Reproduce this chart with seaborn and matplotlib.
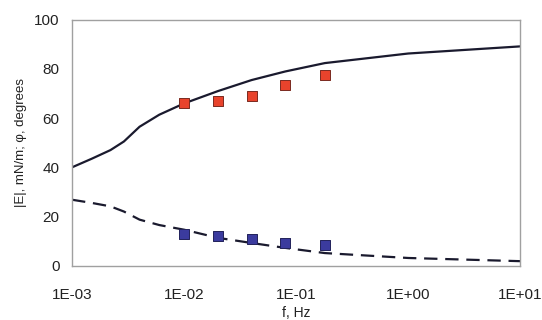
import numpy as np
import pandas as pd
import matplotlib
matplotlib.use("Agg")
import matplotlib.pyplot as plt
import seaborn as sns

# model curves
curve_f = [0.001, 0.0015, 0.0022, 0.0029, 0.004, 0.006, 0.01, 0.02, 0.04, 0.08, 0.18, 1.0, 10.0]
modulus_curve = [40, 43.5, 47, 50.5, 56.5, 61.4, 66, 71, 75.5, 79, 82.4, 86.3, 89.2]
phase_curve = [26.8, 25.5, 24.1, 22.0, 18.7, 16.5, 14.6, 11.3, 9.2, 7.2, 5.1, 3.1, 1.8]

# measured points
meas_f = [0.01, 0.02, 0.04, 0.08, 0.18]
modulus_meas = [66.3, 67.0, 69.0, 73.3, 77.5]
phase_meas = [12.9, 11.9, 11.0, 9.0, 8.3]

sns.set_theme(style="white")
plt.rcParams["font.family"] = ["Liberation Sans", "DejaVu Sans"]

curves = pd.DataFrame({"f": curve_f, "mod": modulus_curve, "phase": phase_curve})
pts = pd.DataFrame({"f": meas_f, "mod": modulus_meas, "phase": phase_meas})

fig, ax = plt.subplots(figsize=(5.42, 3.2), dpi=100)
fig.subplots_adjust(left=0.133, right=0.96, top=0.938, bottom=0.17)

sns.lineplot(data=curves, x="f", y="mod", ax=ax, color="#1a1a2e", lw=1.6)
sns.lineplot(data=curves, x="f", y="phase", ax=ax, color="#1a1a2e", lw=1.6,
             linestyle=(0, (6, 3.5)))
sns.scatterplot(data=pts, x="f", y="mod", ax=ax, marker="s", s=42,
                color="#e8432c", edgecolor="#7a2a20", linewidth=0.7, zorder=3)
sns.scatterplot(data=pts, x="f", y="phase", ax=ax, marker="s", s=42,
                color="#3b3b9e", edgecolor="#22225a", linewidth=0.7, zorder=3)

ax.set_xscale("log")
ax.set_xlim(1e-3, 1e1)
ax.set_ylim(0, 100)
ax.set_yticks([0, 20, 40, 60, 80, 100])
ax.set_xticks([1e-3, 1e-2, 1e-1, 1e0, 1e1])
ax.set_xticklabels(["1E-03", "1E-02", "1E-01", "1E+00", "1E+01"])
ax.minorticks_off()

for s in ax.spines.values():
    s.set_color("#a0a0a0")
    s.set_linewidth(1.0)
ax.tick_params(axis="both", direction="out", length=4, width=1.0, color="#a0a0a0",
               labelsize=11, labelcolor="#222222", pad=5)
ax.tick_params(axis="x", pad=12)

ax.set_xlabel("f, Hz", fontsize=10, color="#222222", labelpad=3)
ax.set_ylabel("|E|, mN/m; φ, degrees", fontsize=9.5, color="#222222", labelpad=5)

fig.savefig("out.png", dpi=100)
